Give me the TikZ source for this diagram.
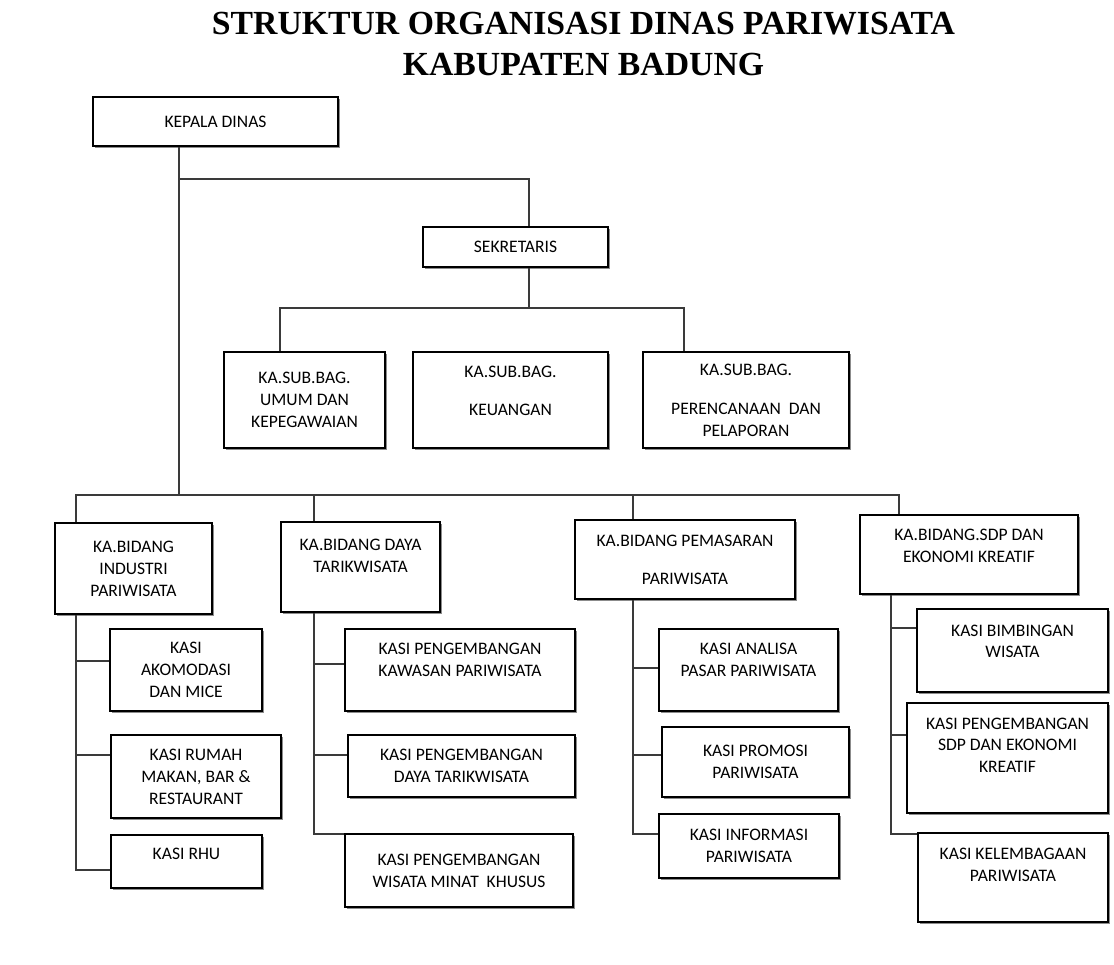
\documentclass[tikz,border=0pt]{standalone}
\usepackage{fontspec}
\setmainfont{Carlito}
\newfontfamily\titlefont{Liberation Serif}
\usepackage{tikz}
\usetikzlibrary{shadows}
\definecolor{linegray}{HTML}{3A3A3A}
\definecolor{shadowgray}{HTML}{8C8C8C}
\tikzset{
    orgbox/.style={
        rectangle, draw=black, fill=white, line width=0.8pt,
        drop shadow={shadow xshift=1.3pt, shadow yshift=-1.3pt, fill=shadowgray, opacity=1},
        font=\fontsize{10}{12.5}\selectfont, align=center, inner sep=2pt
    },
    orgline/.style={
        draw=linegray, line width=0.9pt
    },
    titletext/.style={
        font=\titlefont\bfseries\fontsize{19.2}{23.8}\selectfont, align=center, inner sep=0pt
    },
}
\begin{document}
\begin{tikzpicture}[x=0.02cm, y=-0.02cm]
    \useasboundingbox (0,0) rectangle (1114,964);

    % Title
    \node[titletext] (title) at (583.5,44) {STRUKTUR ORGANISASI DINAS PARIWISATA\\KABUPATEN BADUNG};

    % Pimpinan
    \node[orgbox, minimum width=4.9cm, minimum height=0.98cm] (kepala) at (215.5,121.5) {KEPALA DINAS};
    \node[orgbox, minimum width=3.7cm, minimum height=0.8cm] (sekre) at (515.5,247) {SEKRETARIS};

    % Sub bagian
    \node[orgbox, minimum width=3.22cm, minimum height=1.92cm] (umum) at (304.5,400) {KA.SUB.BAG.\\UMUM DAN\\KEPEGAWAIAN};
    \node[orgbox, minimum width=3.9cm, minimum height=1.92cm] (keuangan) at (510.5,400) {KA.SUB.BAG.\\[9.6pt]KEUANGAN\\[-2pt]\mbox{}};
    \node[orgbox, minimum width=4.12cm, minimum height=1.92cm] (rencana) at (746,400) {KA.SUB.BAG.\\[9.6pt]PERENCANAAN\ \ DAN\\PELAPORAN};

    % Bidang
    \node[orgbox, minimum width=3.14cm, minimum height=1.82cm] (industri) at (133.5,568.5) {KA.BIDANG\\INDUSTRI\\PARIWISATA};
    \node[orgbox, minimum width=3.18cm, minimum height=1.8cm] (daya) at (360.5,567) {KA.BIDANG DAYA\\TARIKWISATA\\\mbox{}};
    \node[orgbox, minimum width=4.4cm, minimum height=1.58cm] (pemasaran) at (685,559.5) {KA.BIDANG PEMASARAN\\[9pt]PARIWISATA};
    \node[orgbox, minimum width=4.36cm, minimum height=1.58cm] (sdp) at (969,554.5) {KA.BIDANG.SDP DAN\\EKONOMI KREATIF\\[-3pt]\mbox{}};

    % Seksi bidang industri
    \node[orgbox, minimum width=3.04cm, minimum height=1.64cm] (akomodasi) at (186,670) {KASI\\AKOMODASI\\DAN MICE};
    \node[orgbox, minimum width=3.4cm, minimum height=1.66cm] (rumahmakan) at (196,776.5) {KASI RUMAH\\MAKAN, BAR \&\\RESTAURANT};
    \node[orgbox, minimum width=3.02cm, minimum height=1.06cm] (rhu) at (186.5,861.5) {KASI RHU\\[-4pt]\mbox{}};

    % Seksi bidang daya tarik
    \node[orgbox, minimum width=4.6cm, minimum height=1.64cm] (kawasan) at (460,670) {KASI PENGEMBANGAN\\KAWASAN PARIWISATA\\[-1pt]\mbox{}};
    \node[orgbox, minimum width=4.54cm, minimum height=1.24cm] (dtw) at (461.5,766) {KASI PENGEMBANGAN\\DAYA TARIKWISATA};
    \node[orgbox, minimum width=4.56cm, minimum height=1.46cm] (minat) at (459,870.5) {KASI PENGEMBANGAN\\WISATA MINAT\ \ KHUSUS};

    % Seksi bidang pemasaran
    \node[orgbox, minimum width=3.58cm, minimum height=1.64cm] (analisa) at (748.5,670) {KASI ANALISA\\PASAR PARIWISATA\\[-1pt]\mbox{}};
    \node[orgbox, minimum width=3.74cm, minimum height=1.4cm] (promosi) at (755.5,762) {KASI PROMOSI\\PARIWISATA};
    \node[orgbox, minimum width=3.6cm, minimum height=1.28cm] (informasi) at (749,846) {KASI INFORMASI\\PARIWISATA};

    % Seksi bidang SDP
    \node[orgbox, minimum width=3.82cm, minimum height=1.66cm] (bimbingan) at (1012.5,650.5) {KASI BIMBINGAN\\WISATA\\[-2pt]\mbox{}};
    \node[orgbox, minimum width=4.02cm, minimum height=2.2cm] (pengsdp) at (1007.5,758) {KASI PENGEMBANGAN\\SDP DAN EKONOMI\\KREATIF\\[2pt]\mbox{}};
    \node[orgbox, minimum width=3.8cm, minimum height=1.78cm] (lembaga) at (1013,877.5) {KASI KELEMBAGAAN\\PARIWISATA\\[2pt]\mbox{}};

    % Junctions
    \coordinate (cabang) at (179,179);
    \coordinate (subtop) at (529,308);
    \coordinate (subL) at (280,308);
    \coordinate (subR) at (684,308);
    \coordinate (bidtrunk) at (179,495);
    \coordinate (bidL) at (76,495);
    \coordinate (bid2) at (314,495);
    \coordinate (bid3) at (633,495);
    \coordinate (bidR) at (899,495);
    \coordinate (k1a) at (76,661);
    \coordinate (k1b) at (76,755);
    \coordinate (k1c) at (76,870);
    \coordinate (k2a) at (314,664);
    \coordinate (k2b) at (314,755);
    \coordinate (k2c) at (314,834);
    \coordinate (k3a) at (633,668);
    \coordinate (k3b) at (633,755);
    \coordinate (k3c) at (633,834);
    \coordinate (k4a) at (891,628);
    \coordinate (k4b) at (891,735);
    \coordinate (k4c) at (891,834);

    % Garis komando
    \draw[orgline] (kepala.south -| cabang) -- (bidtrunk);
    \draw[orgline] (cabang) -| (sekre.north -| subtop);
    \draw[orgline] (sekre.south -| subtop) -- (subtop);
    \draw[orgline] (umum.north -| subL) |- (subR) -- (rencana.north -| subR);
    \draw[orgline] (industri.north -| bidL) |- (bidR) -- (sdp.north -| bidR);
    \draw[orgline] (bid2) -- (daya.north -| bid2);
    \draw[orgline] (bid3) -- (pemasaran.north -| bid3);

    \draw[orgline] (industri.south -| k1a) -- (k1c) -- (k1c -| rhu.west);
    \draw[orgline] (k1a) -- (k1a -| akomodasi.west);
    \draw[orgline] (k1b) -- (k1b -| rumahmakan.west);

    \draw[orgline] (daya.south -| k2a) -- (k2c) -- (k2c -| minat.west);
    \draw[orgline] (k2a) -- (k2a -| kawasan.west);
    \draw[orgline] (k2b) -- (k2b -| dtw.west);

    \draw[orgline] (pemasaran.south -| k3a) -- (k3c) -- (k3c -| informasi.west);
    \draw[orgline] (k3a) -- (k3a -| analisa.west);
    \draw[orgline] (k3b) -- (k3b -| promosi.west);

    \draw[orgline] (sdp.south -| k4a) -- (k4c) -- (k4c -| lembaga.west);
    \draw[orgline] (k4a) -- (k4a -| bimbingan.west);
    \draw[orgline] (k4b) -- (k4b -| pengsdp.west);

\end{tikzpicture}
\end{document}
